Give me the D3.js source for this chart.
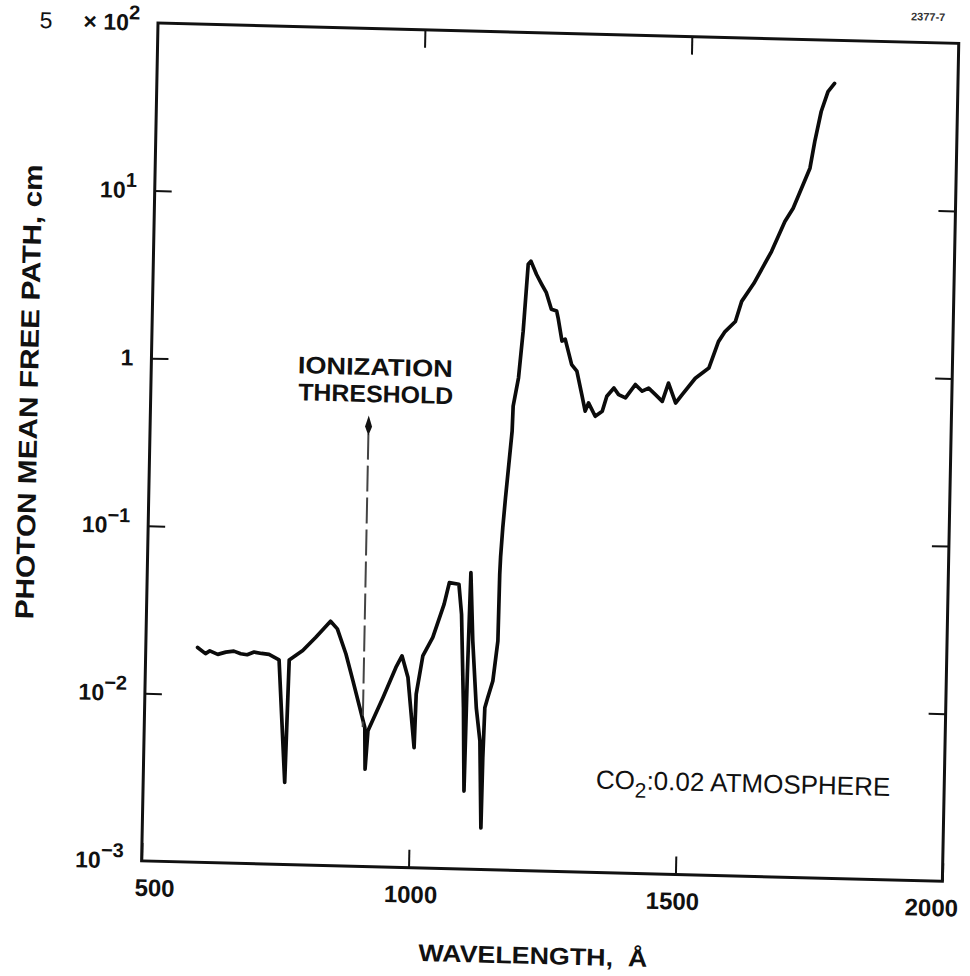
<!DOCTYPE html>
<html><head><meta charset="utf-8">
<script src="https://cdn.jsdelivr.net/npm/d3@7"></script>
<style>
html,body{margin:0;padding:0;background:#fff;}
svg{display:block;}
</style></head><body>
<svg id="chart" width="970" height="976"></svg>
<script>
// ---- data ----
const wavelength = [597, 612, 620, 635, 650, 665, 678, 690, 703, 717,
  731, 750, 765, 769, 794, 818, 845, 858, 875, 889,
  913, 915, 919, 946, 969, 980, 992, 1006, 1008, 1019,
  1037, 1057, 1066, 1084, 1090, 1097, 1101, 1103, 1104.5, 1106,
  1112, 1121, 1129, 1134, 1135, 1137, 1142, 1151, 1159, 1160,
  1161, 1164, 1168, 1173, 1178, 1179, 1188, 1195, 1202, 1207,
  1218, 1228, 1237, 1247, 1257, 1260, 1268, 1274, 1287, 1297,
  1307, 1314, 1320, 1333, 1346, 1354, 1367, 1376, 1389, 1407,
  1420, 1432, 1445, 1458, 1469, 1483, 1495, 1519, 1544, 1561,
  1573, 1592, 1603, 1625, 1657, 1681, 1696, 1726, 1734, 1745,
  1757, 1769];
const meanFreePath = [0.0191, 0.0176, 0.0183, 0.0175, 0.0181, 0.0184, 0.0178, 0.0176, 0.0183, 0.0180,
  0.0178, 0.0166, 0.00309, 0.0166, 0.0190, 0.0229, 0.0287, 0.0259, 0.0184, 0.0128,
  0.00675, 0.00381, 0.00646, 0.01025, 0.01556, 0.0183, 0.0136, 0.00521, 0.01087, 0.0184,
  0.0238, 0.0378, 0.0508, 0.0499, 0.0330, 0.00917, 0.00292, 0.01452, 0.0288, 0.0588,
  0.0230, 0.0092, 0.00583, 0.00177, 0.00464, 0.00923, 0.0106, 0.01337, 0.0232, 0.058,
  0.0734, 0.110, 0.166, 0.263, 0.417, 0.587, 0.868, 1.65, 4.14, 4.33,
  3.61, 3.16, 2.82, 2.25, 2.20, 2.00, 1.46, 1.50, 1.06, 0.971,
  0.706, 0.562, 0.630, 0.526, 0.565, 0.695, 0.780, 0.714, 0.684, 0.824,
  0.754, 0.789, 0.723, 0.660, 0.851, 0.649, 0.729, 0.918, 1.06, 1.53,
  1.76, 2.03, 2.68, 3.44, 5.37, 8.15, 9.82, 17.1, 24.7, 37.4,
  49.3, 55.3];

const xDomain = [500, 2000];
const yDomain = [1e-3, 1e2];
const xTickValues = [500, 1000, 1500, 2000];
const xTickLabels = ["500", "1000", "1500", "2000"];
const xInnerTicks = [1000, 1500];
const yTickValues = [1e-3, 1e-2, 1e-1, 1, 10, 100];
const yTickPrefix = ["", "", "", "", "", "5"];
const yTickBase = ["10", "10", "10", "1", "10", "× 10"];
const yTickExp = ["−3", "−2", "−1", "", "1", "2"];
const yInnerTicks = [1e-2, 1e-1, 1, 10];
const thresholdWavelength = 909;
const thresholdRange = [0.00678, 0.49];
const thresholdLines = ["IONIZATION", "THRESHOLD"];
const xTitle = "WAVELENGTH,  Å";
const yTitle = "PHOTON MEAN FREE PATH, cm";
const noteParts = ["CO", "2", ":0.02 ATMOSPHERE"];
const figId = "2377-7";

// ---- layout ----
const W = 801, H = 838;
const FONT = "'Liberation Sans', Arial, Helvetica, sans-serif";
const ink = "#111";
const a = 1.46 * Math.PI / 180, b = 1.12 * Math.PI / 180;

const svg = d3.select("#chart");
svg.append("rect").attr("width", 970).attr("height", 976).attr("fill", "#fff");
const g = svg.append("g")
  .attr("transform", `matrix(${Math.cos(a)},${Math.sin(a)},${-Math.sin(b)},${Math.cos(b)},158,23)`)
  .attr("font-family", FONT);

const x = d3.scaleLinear().domain(xDomain).range([0, W]);
const y = d3.scaleLog().domain(yDomain).range([H, 0]);

// frame
g.append("rect").attr("width", W).attr("height", H)
  .attr("fill", "none").attr("stroke", ink).attr("stroke-width", 3);

// bottom axis (ticks + labels)
const xShift = [13, 2, -3, -11];
g.append("g").attr("transform", `translate(0,${H})`)
  .call(d3.axisBottom(x).tickValues(xTickValues).tickSizeInner(-18).tickSizeOuter(0)
    .tickPadding(18).tickFormat((d, i) => xTickLabels[i]))
  .call(s => s.select(".domain").remove())
  .call(s => s.attr("font-size", 24).attr("font-family", FONT).attr("font-weight", "bold").style("color", ink))
  .call(s => s.selectAll("line").attr("stroke-width", 2))
  .call(s => s.selectAll("text").attr("dx", (d, i) => xShift[i]));

// top axis ticks
g.append("g")
  .call(d3.axisTop(x).tickValues(xInnerTicks).tickSizeInner(-18).tickSizeOuter(0).tickFormat(""))
  .call(s => s.select(".domain").remove())
  .call(s => s.style("color", ink).selectAll("line").attr("stroke-width", 2));

// left / right ticks
g.append("g")
  .call(d3.axisLeft(y).tickValues(yInnerTicks).tickSizeInner(-17).tickSizeOuter(0).tickFormat(""))
  .call(s => s.select(".domain").remove())
  .call(s => s.style("color", ink).selectAll("line").attr("stroke-width", 2));
g.append("g").attr("transform", `translate(${W},0)`)
  .call(d3.axisRight(y).tickValues(yInnerTicks).tickSizeInner(-17).tickSizeOuter(0).tickFormat(""))
  .call(s => s.select(".domain").remove())
  .call(s => s.style("color", ink).selectAll("line").attr("stroke-width", 2));

// y tick labels with superscripts
yTickValues.forEach((v, i) => {
  const t = g.append("text").attr("x", -18).attr("y", y(v) + 8)
    .attr("text-anchor", "end").attr("font-size", 23).attr("font-weight", "bold").attr("fill", ink);
  t.append("tspan").text(yTickBase[i]);
  if (yTickExp[i]) t.append("tspan").attr("dy", -11).attr("font-size", 20).text(yTickExp[i]);
  if (yTickPrefix[i]) {
    g.append("text").attr("x", -112).attr("y", y(v) + 8).attr("text-anchor", "middle")
      .attr("font-size", 23).attr("fill", ink).text(yTickPrefix[i]);
  }
});

// axis titles
g.append("text").attr("x", 393).attr("y", 931).attr("text-anchor", "middle")
  .attr("font-size", 24).attr("font-weight", "bold").attr("fill", ink)
  .attr("textLength", 229).attr("lengthAdjust", "spacingAndGlyphs")
  .style("white-space", "pre").text(xTitle);
g.append("text").attr("transform", "translate(-113,372) rotate(-90)").attr("text-anchor", "middle")
  .attr("font-size", 26).attr("font-weight", "bold").attr("fill", ink)
  .attr("textLength", 455).attr("lengthAdjust", "spacingAndGlyphs").text(yTitle);

// data curve
const line = d3.line().x(d => x(d[0])).y(d => y(d[1]));
g.append("path").datum(d3.zip(wavelength, meanFreePath))
  .attr("d", line).attr("fill", "none").attr("stroke", "#0b0b0b")
  .attr("stroke-width", 3.7).attr("stroke-linejoin", "round").attr("stroke-linecap", "round");

// ionization threshold marker
const tx = x(thresholdWavelength), tTop = y(thresholdRange[1]), tBot = y(thresholdRange[0]);
g.append("line").attr("x1", tx).attr("x2", tx).attr("y1", tTop + 18).attr("y2", tBot)
  .attr("stroke", "#444").attr("stroke-width", 2).attr("stroke-dasharray", "26,6");
g.append("path").attr("transform", `translate(${tx},${tTop})`)
  .attr("d", "M0,0 L3.5,11 L0,20 L-3.5,11 Z").attr("fill", ink);
thresholdLines.forEach((s, i) => {
  g.append("text").attr("x", 224 + i).attr("y", 346.5 + i * 27).attr("text-anchor", "middle")
    .attr("font-size", 24).attr("font-weight", "bold").attr("fill", ink)
    .attr("textLength", 155).attr("lengthAdjust", "spacingAndGlyphs").text(s);
});

// CO2 note
const note = g.append("text").attr("x", 747).attr("y", 754).attr("text-anchor", "end")
  .attr("font-size", 26).attr("fill", ink);
note.append("tspan").text(noteParts[0]);
note.append("tspan").attr("dy", 8).attr("font-size", 21).text(noteParts[1]);
note.append("tspan").attr("dy", -8).text(noteParts[2]);

// figure id
g.append("text").attr("x", 787).attr("y", -22).attr("text-anchor", "end")
  .attr("font-size", 11).attr("font-weight", "bold").attr("fill", "#333").text(figId);
</script>
</body></html>
